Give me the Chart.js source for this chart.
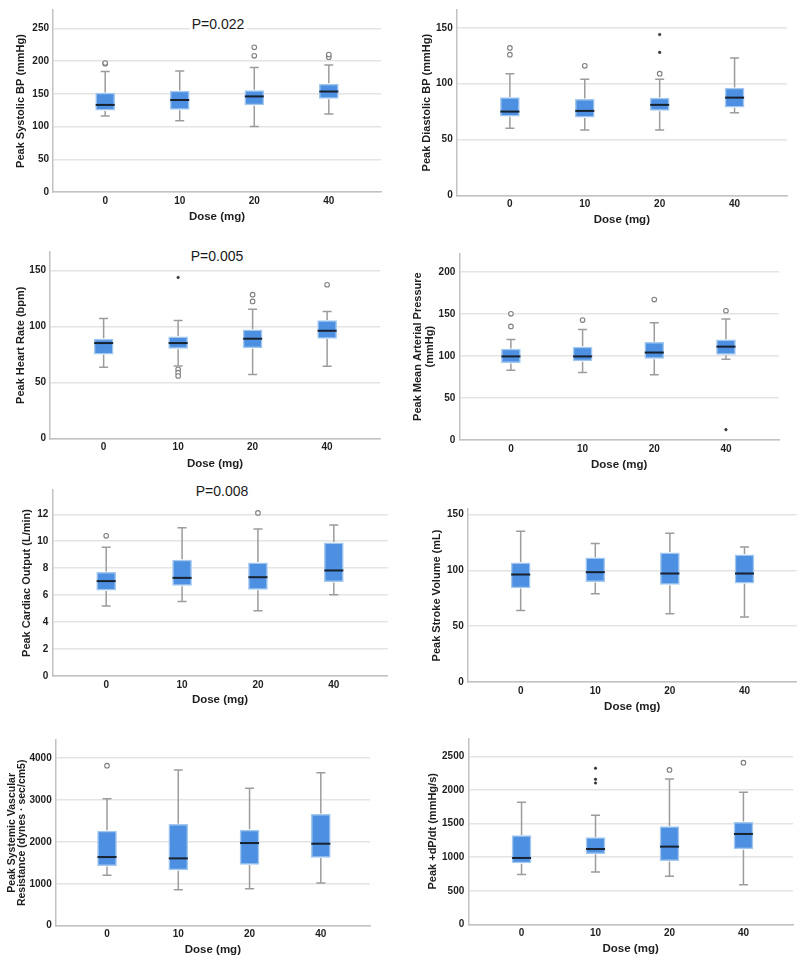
<!DOCTYPE html>
<html>
<head>
<meta charset="utf-8">
<script src="https://cdn.jsdelivr.net/npm/chart.js@4.4.1/dist/chart.umd.min.js"></script>
<style>
  body { margin:0; background:#fff; width:800px; height:962px; position:relative; overflow:hidden; font-family:'Liberation Sans', Arial, sans-serif; }
  canvas { position:absolute; z-index:1; }
  .pval { position:absolute; z-index:2; font-size:14px; color:#1a1a1a; background:#fff; padding:0 2px; transform:translate(-50%,-50%); white-space:nowrap; }
</style>
</head>
<body>
<div class="pval" style="left:218px;top:24px">P=0.022</div>
<div class="pval" style="left:217px;top:256px">P=0.005</div>
<div class="pval" style="left:222px;top:491px">P=0.008</div>
<script>
const doses = ['0', '10', '20', '40'];

// each box: [low whisker, Q1, median, Q3, high whisker], one per dose
// outliers / extremes: [dose index, value]
const sbpStats = [[116, 125, 133, 151, 184], [109, 126, 140.5, 154, 185], [100, 133, 146, 155, 190], [119, 143, 153.5, 165, 194]];
const sbpOutliers = [[0, 196], [0, 197], [2, 208], [2, 221], [3, 206], [3, 210]];
const sbpExtremes = [];
const sbpTicks = [0, 50, 100, 150, 200, 250];

const dbpStats = [[60, 71, 75, 87.5, 109], [58.6, 70, 75.6, 86, 104], [58.6, 76, 81, 87, 104], [74, 79, 87.5, 96, 123]];
const dbpOutliers = [[0, 126], [0, 132], [1, 116], [2, 109]];
const dbpExtremes = [[2, 128], [2, 144]];
const dbpTicks = [0, 50, 100, 150];

const hrStats = [[63.7, 75.6, 85.4, 89, 107.4], [64.9, 80.6, 85.4, 91, 105.6], [57.4, 81, 89.3, 97.3, 115.5], [64.6, 89.6, 96.4, 105.4, 113.7]];
const hrOutliers = [[1, 62], [1, 59], [1, 56], [2, 122.6], [2, 128.6], [3, 137.5]];
const hrExtremes = [[1, 144]];
const hrTicks = [0, 50, 100, 150];

const mapStats = [[83, 92, 99.4, 108, 119.6], [80.4, 93.9, 99.4, 110.5, 131.5], [77.6, 97, 104, 116, 139.4], [96, 101.8, 111, 119, 144]];
const mapOutliers = [[0, 135], [0, 150], [1, 142.6], [2, 167], [3, 153.7]];
const mapExtremes = [[3, 12.3]];
const mapTicks = [0, 50, 100, 150, 200];

const coStats = [[5.19, 6.37, 7.04, 7.7, 9.56], [5.53, 6.72, 7.28, 8.6, 11.0], [4.84, 6.42, 7.33, 8.4, 10.9], [6.02, 6.99, 7.83, 9.88, 11.2]];
const coOutliers = [[0, 10.4], [2, 12.1]];
const coExtremes = [];
const coTicks = [0, 2, 4, 6, 8, 10, 12];

const svStats = [[64, 84.4, 96.3, 106.8, 135], [79, 89.8, 98.4, 111.2, 124], [61.1, 87.4, 97.2, 115.7, 133.3], [58.2, 88.6, 97.2, 114, 121]];
const svOutliers = [];
const svExtremes = [];
const svTicks = [0, 50, 100, 150];

const svrStats = [[1201, 1431, 1638, 2258, 3030], [859, 1328, 1606, 2417, 3714], [883, 1463, 1972, 2282, 3276], [1018, 1630, 1956, 2656, 3650]];
const svrOutliers = [[0, 3817]];
const svrExtremes = [];
const svrTicks = [0, 1000, 2000, 3000, 4000];

const dpdtStats = [[741, 915, 989, 1322, 1819], [780, 1054, 1123, 1292, 1625], [716, 949, 1158, 1456, 2167], [591, 1123, 1347, 1521, 1968]];
const dpdtOutliers = [[2, 2301], [3, 2410]];
const dpdtExtremes = [[1, 2107], [1, 2162], [1, 2326]];
const dpdtTicks = [0, 500, 1000, 1500, 2000, 2500];

const FONT = "'Liberation Sans', Arial, sans-serif";

// panel placement (page px): canvas box, plot area, title positions
const panels = [
  { left: 0,   top: 0,   h: 230, plot: { l: 53,    r: 381,   t: 5,     b: 192 },   xTitleY: 217,   yTitleX: 21,    yTitle: 'Peak Systolic BP (mmHg)', yMax: 278, xMin: -0.7, xMax: 3.7, stats: sbpStats, out: sbpOutliers, ext: sbpExtremes, ticks: sbpTicks },
  { left: 400, top: 0,   h: 230, plot: { l: 456.7, r: 787,   t: 9.3,   b: 195.3 }, xTitleY: 220,   yTitleX: 427,   yTitle: 'Peak Diastolic BP (mmHg)', yMax: 166, xMin: -0.71, xMax: 3.7, stats: dbpStats, out: dbpOutliers, ext: dbpExtremes, ticks: dbpTicks },
  { left: 0,   top: 230, h: 245, plot: { l: 50,    r: 380,   t: 251.7, b: 438.7 }, xTitleY: 463.5, yTitleX: 20.7,  yTitle: 'Peak Heart Rate (bpm)', yMax: 167, xMin: -0.72, xMax: 3.71, stats: hrStats, out: hrOutliers, ext: hrExtremes, ticks: hrTicks },
  { left: 400, top: 230, h: 245, plot: { l: 459.3, r: 779,   t: 253.3, b: 440 },   xTitleY: 465,   yTitleX: 418,   yTitle: ['Peak Mean Arterial Pressure', '(mmHg)'], yLine: 1.1, yMax: 222, xMin: -0.72, xMax: 3.74, stats: mapStats, out: mapOutliers, ext: mapExtremes, ticks: mapTicks },
  { left: 0,   top: 470, h: 250, plot: { l: 52.3,  r: 387.7, t: 490,   b: 676 },   xTitleY: 700,   yTitleX: 27,    yTitle: 'Peak Cardiac Output (L/min)', yMax: 13.8, xMin: -0.71, xMax: 3.71, stats: coStats, out: coOutliers, ext: coExtremes, ticks: coTicks },
  { left: 400, top: 470, h: 250, plot: { l: 467.7, r: 796.7, t: 509,   b: 682 },   xTitleY: 706.5, yTitleX: 436.7, yTitle: 'Peak Stroke Volume (mL)', yMax: 155, xMin: -0.71, xMax: 3.7, stats: svStats, out: svOutliers, ext: svExtremes, ticks: svTicks },
  { left: 0,   top: 720, h: 242, plot: { l: 55.7,  r: 370,   t: 740,   b: 925.7 }, xTitleY: 950,   yTitleX: 11.7,  yTitle: ['Peak Systemic Vascular', 'Resistance (dynes \u00b7 sec/cm5)'], yFont: 10.5, yLine: 1.0, yMax: 4430, xMin: -0.72, xMax: 3.69, stats: svrStats, out: svrOutliers, ext: svrExtremes, ticks: svrTicks },
  { left: 400, top: 720, h: 242, plot: { l: 468.3, r: 793,   t: 738.3, b: 924.3 }, xTitleY: 949,   yTitleX: 433,   yTitle: 'Peak +dP/dt (mmHg/s)', yMax: 2773, xMin: -0.72, xMax: 3.67, stats: dpdtStats, out: dpdtOutliers, ext: dpdtExtremes, ticks: dpdtTicks }
];

// whiskers, caps and median line, placed with the chart's own scales
function boxPlugin(stats) {
  return {
    id: 'boxWhiskers',
    afterDatasetsDraw(chart) {
      const xs = chart.scales.x, ys = chart.scales.y, ctx = chart.ctx;
      ctx.save();
      stats.forEach((s, i) => {
        const x = xs.getPixelForValue(i);
        const [lo, q1, med, q3, hi] = s.map(v => ys.getPixelForValue(v));
        ctx.strokeStyle = '#9c9c9c';
        ctx.lineWidth = 1.5;
        ctx.beginPath();
        ctx.moveTo(x, q3 - 0.75); ctx.lineTo(x, hi);
        ctx.moveTo(x, q1 + 0.75); ctx.lineTo(x, lo);
        ctx.moveTo(x - 4.5, hi); ctx.lineTo(x + 4.5, hi);
        ctx.moveTo(x - 4.5, lo); ctx.lineTo(x + 4.5, lo);
        ctx.stroke();
        ctx.strokeStyle = '#17222e';
        ctx.lineWidth = 2;
        ctx.beginPath();
        ctx.moveTo(x - 9.5, med); ctx.lineTo(x + 9.5, med);
        ctx.stroke();
      });
      ctx.restore();
    }
  };
}

panels.forEach(p => {
  const W = 400;
  const xTitleSize = 11.5, xTitleLH = xTitleSize * 1.2;
  const yFont = p.yFont || 11, yLH = yFont * (p.yLine || 1.2);
  const xScaleBottom = p.xTitleY + xTitleLH / 2;

  const cv = document.createElement('canvas');
  cv.width = W; cv.height = p.h;
  cv.style.left = p.left + 'px'; cv.style.top = p.top + 'px';
  document.body.appendChild(cv);

  new Chart(cv.getContext('2d'), {
    type: 'bar',
    data: {
      datasets: [
        {
          type: 'bar',
          data: p.stats.map((s, i) => ({ x: i, y: [s[1], s[3]] })),
          backgroundColor: '#4d8fe1',
          borderColor: '#a3c8f0',
          borderWidth: 1.5,
          borderSkipped: false,
          barThickness: 19
        },
        {
          type: 'scatter',
          data: p.out.map(([i, v]) => ({ x: i, y: v })),
          pointRadius: 2.3,
          pointBackgroundColor: '#ffffff',
          pointBorderColor: '#7f7f7f',
          pointBorderWidth: 1.1
        },
        {
          type: 'scatter',
          data: p.ext.map(([i, v]) => ({ x: i, y: v })),
          pointRadius: 1.3,
          pointBackgroundColor: '#333333',
          pointBorderColor: '#333333',
          pointBorderWidth: 0.5
        }
      ]
    },
    options: {
      responsive: false,
      animation: false,
      devicePixelRatio: 1,
      layout: {
        padding: {
          left: 0,
          right: p.left + W - p.plot.r,
          top: p.plot.t - p.top,
          bottom: p.top + p.h - xScaleBottom
        }
      },
      plugins: { legend: { display: false }, tooltip: { enabled: false } },
      scales: {
        x: {
          type: 'linear',
          min: p.xMin, max: p.xMax,
          offset: false,
          afterBuildTicks: s => { s.ticks = doses.map((d, i) => ({ value: i })); },
          afterFit: s => { s.height = xScaleBottom - p.plot.b; },
          grid: { display: false, drawTicks: false },
          border: { display: true, color: '#c2c2c2', width: 1.5 },
          ticks: {
            callback: v => doses[v],
            color: '#1e1e1e', padding: 3, maxRotation: 0,
            font: { family: FONT, size: 10, weight: 'bold' }
          },
          title: {
            display: true, text: 'Dose (mg)', color: '#1e1e1e',
            padding: { top: 0, bottom: 0 },
            font: { family: FONT, size: xTitleSize, weight: 'bold' }
          }
        },
        y: {
          type: 'linear',
          min: 0, max: p.yMax,
          afterBuildTicks: s => { s.ticks = p.ticks.map(v => ({ value: v })); },
          afterFit: s => { s.width = p.plot.l - p.left; },
          grid: { color: '#e4e4e4', lineWidth: 1.5, drawTicks: false },
          border: { display: true, color: '#c2c2c2', width: 1.5 },
          ticks: {
            callback: v => String(v),
            color: '#1e1e1e', padding: 4,
            font: { family: FONT, size: 10, weight: 'bold' }
          },
          title: {
            display: true, text: p.yTitle, color: '#1e1e1e',
            padding: { top: p.yTitleX - p.left - yLH / 2, bottom: 0 },
            font: { family: FONT, size: yFont, weight: 'bold', lineHeight: p.yLine || 1.2 }
          }
        }
      }
    },
    plugins: [boxPlugin(p.stats)]
  });
});
</script>
</body>
</html>
